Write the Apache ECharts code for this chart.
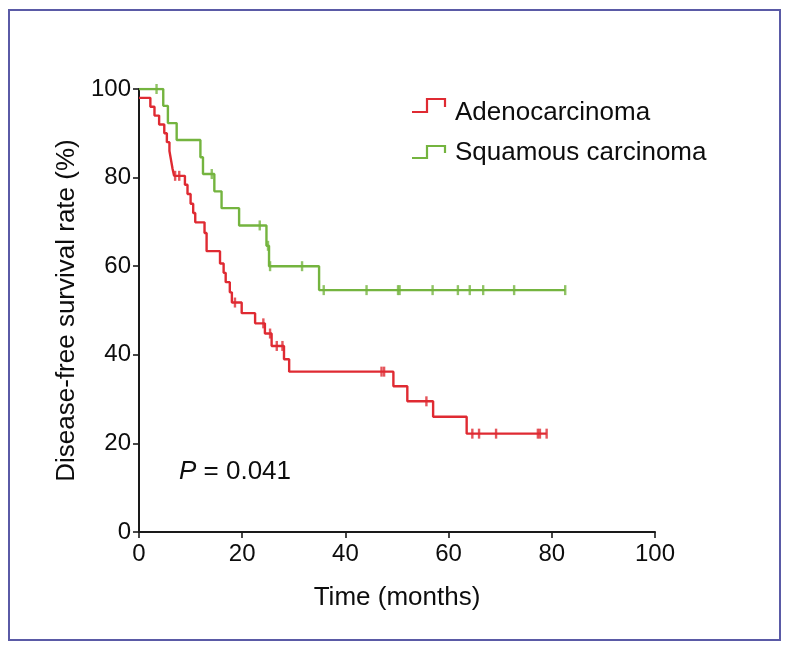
<!DOCTYPE html>
<html>
<head>
<meta charset="utf-8">
<script src="https://cdn.jsdelivr.net/npm/echarts@6/dist/echarts.min.js"></script>
<style>
html,body{margin:0;padding:0;background:#fff;}
#chart{width:791px;height:650px;}
</style>
</head>
<body>
<div id="chart"></div>
<script>
// Kaplan-Meier steps: [time (months), survival (%) after the event]
const adenoSteps = [[0,98],[2.2,96],[3.0,94],[3.9,92],[4.9,90],[5.4,88],[5.9,86],[6.2,84],[6.5,82],[6.8,80.4],
  [8.9,78.4],[9.4,76.3],[10.0,74.1],[10.5,72.0],[10.9,69.9],[12.7,67.5],[13.1,63.4],[15.7,60.6],[16.4,58.5],
  [16.8,56.4],[17.6,54.1],[18.0,51.8],[19.9,49.4],[22.5,47.1],[24.4,44.8],[25.7,42.0],[28.1,39.0],[29.1,36.2],
  [49.3,32.9],[52.0,29.5],[57.0,26.0],[63.5,22.2],[79.0,22.2]];
const adenoCensored = [[7.0,80.4],[7.8,80.4],[18.6,51.8],[24.1,47.1],[25.4,44.8],[26.7,42.0],[27.8,42.0],
  [47.0,36.2],[47.5,36.2],[55.7,29.5],[64.6,22.2],[65.9,22.2],[69.2,22.2],[77.3,22.2],[77.7,22.2],[79.0,22.2]];
const squamSteps = [[0,100],[4.7,96.2],[5.6,92.3],[7.3,88.5],[11.9,84.6],[12.4,80.8],[14.6,76.9],[16.0,73.1],
  [19.4,69.2],[24.7,64.6],[25.2,60.0],[34.9,54.6],[82.6,54.6]];
const squamCensored = [[3.4,100],[14.1,80.8],[23.4,69.2],[25.0,64.6],[25.4,60.0],[31.6,60.0],[35.8,54.6],
  [44.1,54.6],[50.2,54.6],[50.5,54.6],[56.9,54.6],[61.8,54.6],[64.1,54.6],[66.7,54.6],[72.7,54.6],[82.6,54.6]];
const seriesNames = ['Adenocarcinoma','Squamous carcinoma'];
const xTicks = [0,20,40,60,80,100];
const yTicks = [0,20,40,60,80,100];
const pText = '0.041';

const RED = '#df2a32', GREEN = '#74b43f';
const FONT = '"Liberation Sans", Arial, sans-serif';
const chart = echarts.init(document.getElementById('chart'), null, {renderer:'canvas'});
const axisCommon = {
  axisLine:{show:true,lineStyle:{color:'#1a1a1a',width:2}},
  axisTick:{show:true,inside:false,length:6,lineStyle:{color:'#1a1a1a',width:1.6}},
  splitLine:{show:false},
  axisLabel:{color:'#0d0d0d',fontSize:24,fontFamily:FONT},
  nameTextStyle:{color:'#0d0d0d',fontSize:26,fontFamily:FONT}
};
chart.setOption({
  animation:false,
  backgroundColor:'#fff',
  grid:{left:139,right:136,top:89,bottom:118},
  xAxis:Object.assign({},axisCommon,{
    type:'value',min:xTicks[0],max:xTicks[xTicks.length-1],interval:20,
    name:'Time (months)',nameLocation:'middle',nameGap:53,
    axisLabel:Object.assign({},axisCommon.axisLabel,{margin:10})
  }),
  yAxis:Object.assign({},axisCommon,{
    type:'value',min:yTicks[0],max:yTicks[yTicks.length-1],interval:20,
    name:'Disease-free survival rate (%)',nameLocation:'middle',nameGap:58,nameRotate:90,
    axisLabel:Object.assign({},axisCommon.axisLabel,{margin:8})
  }),
  series:[
    {name:seriesNames[0],type:'line',step:'end',data:adenoSteps,showSymbol:false,
      lineStyle:{color:RED,width:2.4},itemStyle:{color:RED},z:3},
    {name:seriesNames[1],type:'line',step:'end',data:squamSteps,showSymbol:false,
      lineStyle:{color:GREEN,width:2.4},itemStyle:{color:GREEN},z:2},
    {type:'scatter',data:adenoCensored,symbol:'rect',symbolSize:[2.4,10],itemStyle:{color:RED},z:4},
    {type:'scatter',data:squamCensored,symbol:'rect',symbolSize:[2.4,10],itemStyle:{color:GREEN},z:4}
  ],
  graphic:[
    {type:'rect',shape:{x:9,y:10,width:771,height:630},style:{fill:null,stroke:'#5a5aa6',lineWidth:2},z:0},
    {type:'polyline',shape:{points:[[412,112],[427,112],[427,99],[445,99],[445,107]]},style:{stroke:RED,lineWidth:2.2,fill:null}},
    {type:'text',style:{x:455,y:113,text:seriesNames[0],fontSize:26,fontFamily:FONT,fill:'#0d0d0d',verticalAlign:'middle'}},
    {type:'polyline',shape:{points:[[412,158],[427,158],[427,146],[445,146],[445,153]]},style:{stroke:GREEN,lineWidth:2.2,fill:null}},
    {type:'text',style:{x:455,y:153,text:seriesNames[1],fontSize:26,fontFamily:FONT,fill:'#0d0d0d',verticalAlign:'middle'}},
    {type:'text',style:{x:179,y:472,rich:{p:{fontStyle:'italic',fontSize:26,fontFamily:FONT,fill:'#0d0d0d'},n:{fontSize:26,fontFamily:FONT,fill:'#0d0d0d'}},
      text:'{p|P}{n| = '+pText+'}',verticalAlign:'middle'}}
  ]
});
</script>
</body>
</html>
